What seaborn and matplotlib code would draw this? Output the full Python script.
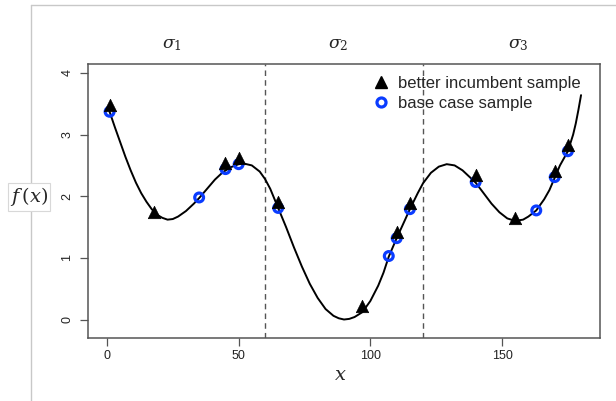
import numpy as np
import pandas as pd
import matplotlib
matplotlib.use("Agg")
import matplotlib.pyplot as plt
from matplotlib.lines import Line2D
import seaborn as sns

# ---- data ----
curve_x = [1, 3, 5, 7, 9, 11, 13, 15, 17, 19, 21, 23, 25, 27, 30, 33, 35, 38, 41, 44,
           47, 50, 52, 55, 58, 60, 62, 65, 68, 71, 74, 77, 80, 83, 86, 88, 90, 92, 94,
           97, 100, 103, 105, 107, 110, 113, 115, 118, 120, 123, 126, 129, 132, 135,
           138, 140, 143, 146, 149, 152, 155, 158, 160, 163, 166, 168, 170, 172, 175,
           177, 178, 179, 180]
curve_y = [3.37, 3.12, 2.88, 2.64, 2.42, 2.22, 2.05, 1.91, 1.79, 1.70, 1.65, 1.62, 1.63,
           1.67, 1.76, 1.88, 1.97, 2.12, 2.27, 2.39, 2.47, 2.52, 2.53, 2.50, 2.40, 2.28,
           2.12, 1.81, 1.50, 1.17, 0.86, 0.58, 0.35, 0.17, 0.06, 0.02, 0.00, 0.01, 0.04,
           0.12, 0.30, 0.55, 0.76, 1.02, 1.32, 1.60, 1.79, 2.05, 2.21, 2.38, 2.48, 2.52,
           2.50, 2.42, 2.30, 2.22, 2.05, 1.88, 1.74, 1.64, 1.60, 1.62, 1.67, 1.77, 1.95,
           2.10, 2.30, 2.50, 2.73, 3.00, 3.18, 3.40, 3.64]

tri_x = [1, 18, 45, 50, 65, 97, 110, 115, 140, 155, 170, 175]
tri_y = [3.48, 1.74, 2.54, 2.62, 1.90, 0.22, 1.42, 1.89, 2.34, 1.64, 2.41, 2.83]

circ_x = [1, 35, 45, 50, 65, 107, 110, 115, 140, 163, 170, 175]
circ_y = [3.37, 1.98, 2.44, 2.52, 1.81, 1.03, 1.32, 1.79, 2.23, 1.77, 2.31, 2.73]

region_bounds = [60, 120]
sigma_labels = [r"$\sigma_1$", r"$\sigma_2$", r"$\sigma_3$"]
sigma_x = [24.7, 87.7, 156]
x_ticks = [0, 50, 100, 150]
y_ticks = [0, 1, 2, 3, 4]
legend_labels = ["better incumbent sample", "base case sample"]

sns.set_theme(style="ticks")
plt.rcParams["font.family"] = ["Liberation Sans", "DejaVu Sans"]
plt.rcParams["mathtext.fontset"] = "dejavuserif"

fig = plt.figure(figsize=(6.16, 4.01), dpi=100)
ax = fig.add_axes([88 / 616, 1 - 338 / 401, (600 - 88) / 616, (338 - 63.7) / 401])

df_curve = pd.DataFrame({"x": curve_x, "y": curve_y})
df_tri = pd.DataFrame({"x": tri_x, "y": tri_y})
df_circ = pd.DataFrame({"x": circ_x, "y": circ_y})

sns.lineplot(data=df_curve, x="x", y="y", ax=ax, color="black", lw=1.4, sort=False,
             zorder=2)
for b in region_bounds:
    ax.axvline(b, color="#555555", lw=1, ls=(0, (4, 3)), zorder=1)
sns.scatterplot(data=df_circ, x="x", y="y", ax=ax, marker="o", s=40,
                facecolor="none", edgecolor="#0a3cff", linewidth=2.3, zorder=3)
sns.scatterplot(data=df_tri, x="x", y="y", ax=ax, marker="^", s=80,
                color="black", edgecolor="black", linewidth=0.5, zorder=4)

ax.set_xlim(-7.2, 187.2)
ax.set_ylim(-0.30, 4.15)
ax.set_xticks(x_ticks)
ax.set_yticks(y_ticks)
ax.set_xlabel("")
ax.set_ylabel("")
for s in ax.spines.values():
    s.set_visible(True)
    s.set_color("#555555")
    s.set_linewidth(1.1)
ax.tick_params(axis="both", length=5.5, width=0.9, color="#555555",
               labelsize=9, labelcolor="#222222")
ax.tick_params(axis="x", pad=3)
ax.tick_params(axis="y", pad=5)
for lab in ax.get_yticklabels():
    lab.set_rotation(90)
    lab.set_va("center")

for lbl, sx in zip(sigma_labels, sigma_x):
    ax.text(sx, 1.068, lbl, transform=ax.get_xaxis_transform(), ha="center",
            va="center", fontsize=12.5)

fig.text(340 / 616, 1 - 375 / 401, r"$x$", ha="center", va="center", fontsize=14)
fig.text(29 / 616, 1 - 197 / 401, r"$f\,(x)$", ha="center", va="center", fontsize=14,
         bbox=dict(facecolor="white", edgecolor="#d8d8d8", pad=1.5, lw=0.8), zorder=5)

# faint outer frame of the screenshot
fig.add_artist(Line2D([30.5 / 616, 1], [1 - 5 / 401, 1 - 5 / 401], color="#c8c8c8",
                      lw=1, transform=fig.transFigure, zorder=0))
fig.add_artist(Line2D([30.5 / 616, 30.5 / 616], [0, 1 - 5 / 401], color="#c8c8c8",
                      lw=1, transform=fig.transFigure, zorder=0))

handles = [Line2D([], [], ls="none", marker="^", color="black", markersize=8),
           Line2D([], [], ls="none", marker="o", markerfacecolor="none",
                  markeredgecolor="#0a3cff", markeredgewidth=2.3, markersize=6.5)]
ax.legend(handles, legend_labels, loc="upper left",
          bbox_to_anchor=(373 / 616, 1 - 76 / 401), bbox_transform=fig.transFigure,
          frameon=False, fontsize=12, handlelength=1.0, handletextpad=0.5,
          labelspacing=0.3, borderpad=0, borderaxespad=0)

fig.savefig("out.png", dpi=100)
